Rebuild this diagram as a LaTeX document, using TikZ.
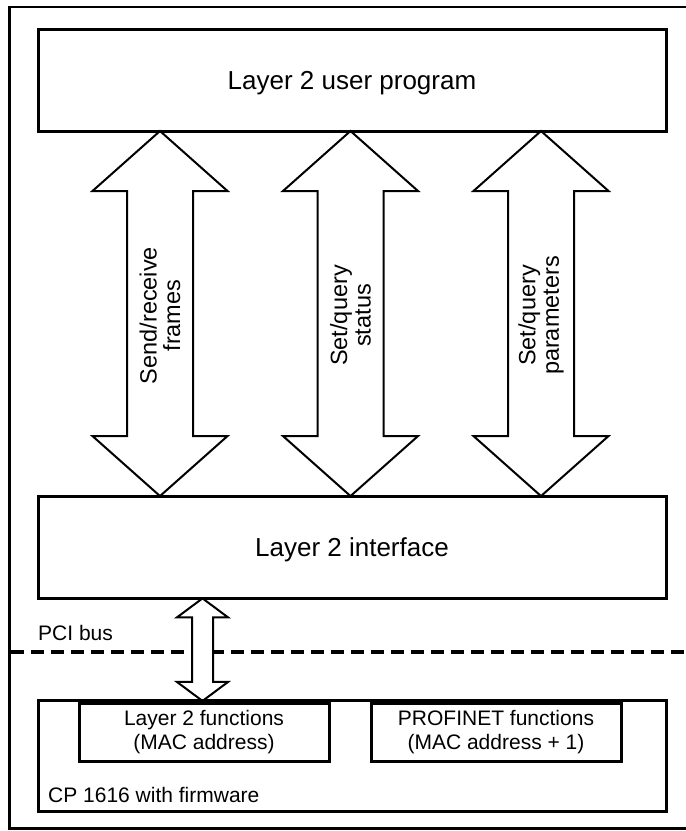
\documentclass[tikz,border=0pt]{standalone}
\usepackage{fontspec}
\setmainfont{Liberation Sans}
\usetikzlibrary{calc}
\pgfdeclarelayer{bg}
\pgfsetlayers{bg,main}
\newcommand\DblArrow[5]{% #1 top tip, #2 bottom tip, #3 shaft half, #4 head half, #5 head length
  \draw[dblarrow] (#1) -- ($(#1)+(#4,#5)$) -- ($(#1)+(#3,#5)$) -- ($(#2)+(#3,-#5)$) -- ($(#2)+(#4,-#5)$) -- (#2)
    -- ($(#2)+(-#4,-#5)$) -- ($(#2)+(-#3,-#5)$) -- ($(#1)+(-#3,#5)$) -- ($(#1)+(-#4,#5)$) -- cycle;}
\begin{document}
\begin{tikzpicture}[x=1pt,y=-1pt,
  outerframe/.style={line width=2.6pt, line join=miter},
  mainbox/.style={draw, line width=3pt, inner sep=0pt, outer sep=0pt, minimum width=628pt,
    font=\fontsize{26}{31}\selectfont, text height=18.7pt, text depth=0pt},
  subbox/.style={draw, line width=3pt, inner sep=0pt, outer sep=0pt, minimum width=250pt,
    minimum height=58.7pt, align=center, font=\fontsize{21}{24}\selectfont},
  dblarrow/.style={draw, fill=white, line width=2pt, line join=miter},
  arrowlabel/.style={rotate=90, align=center, inner sep=0pt, font=\fontsize{23.5}{23.5}\selectfont},
  freetext/.style={inner sep=0pt, anchor=west, font=\fontsize{21}{24}\selectfont, text height=15.1pt, text depth=0pt},
  busline/.style={line width=3.5pt, dash pattern=on 13pt off 7pt}
]
\useasboundingbox (0,0) rectangle (686,831);
% outer frame (open on the right)
\draw[outerframe] (686,7) -- (9.5,7) -- (9.5,828.5) -- (686,828.5);
% boxes
\node[mainbox, minimum height=102pt] (prog) at (352,80) {Layer 2 user program};
\node[mainbox, minimum height=102.3pt] (iface) at (352,547.2) {Layer 2 interface};
\node[draw, line width=3pt, inner sep=0pt, outer sep=0pt, minimum width=628pt, minimum height=110.7pt] (cp) at (352,756.3) {};
\node[subbox] (l2f) at (204,732.4) {Layer 2 functions\\(MAC address)};
\node[subbox] (pnf) at (496,732.4) {PROFINET functions\\(MAC address + 1)};
\node[freetext] (cplabel) at (48,795) {CP 1616 with firmware};
\node[freetext] (pci) at (38,633) {PCI bus};
% arrow axes
\coordinate (c1) at (160,0);
\coordinate (c2) at (350.5,0);
\coordinate (c3) at (541,0);
\coordinate (c4) at (202.5,0);
\coordinate (a1t) at (prog.south -| c1); \coordinate (a1b) at (iface.north -| c1);
\coordinate (a2t) at (prog.south -| c2); \coordinate (a2b) at (iface.north -| c2);
\coordinate (a3t) at (prog.south -| c3); \coordinate (a3b) at (iface.north -| c3);
\coordinate (a4t) at (iface.south -| c4); \coordinate (a4b) at (cp.north -| c4);
\coordinate (busl) at (11,652);
\coordinate (busr) at (686,652);
\begin{pgfonlayer}{bg}
  \draw[busline] (busl) -- (busr);
  \DblArrow{a1t}{a1b}{33}{67.5}{60}
  \DblArrow{a2t}{a2b}{33}{67.5}{60}
  \DblArrow{a3t}{a3b}{33}{67.5}{60}
  \DblArrow{a4t}{a4b}{10.5}{25.5}{19}
\end{pgfonlayer}
\node[arrowlabel, xshift=-2pt] (t1) at ($(a1t)!0.5!(a1b)$) {Send/receive\\frames};
\node[arrowlabel, xshift=-2pt] (t2) at ($(a2t)!0.5!(a2b)$) {Set/query\\status};
\node[arrowlabel, xshift=-2pt] (t3) at ($(a3t)!0.5!(a3b)$) {Set/query\\parameters};
\end{tikzpicture}
\end{document}
